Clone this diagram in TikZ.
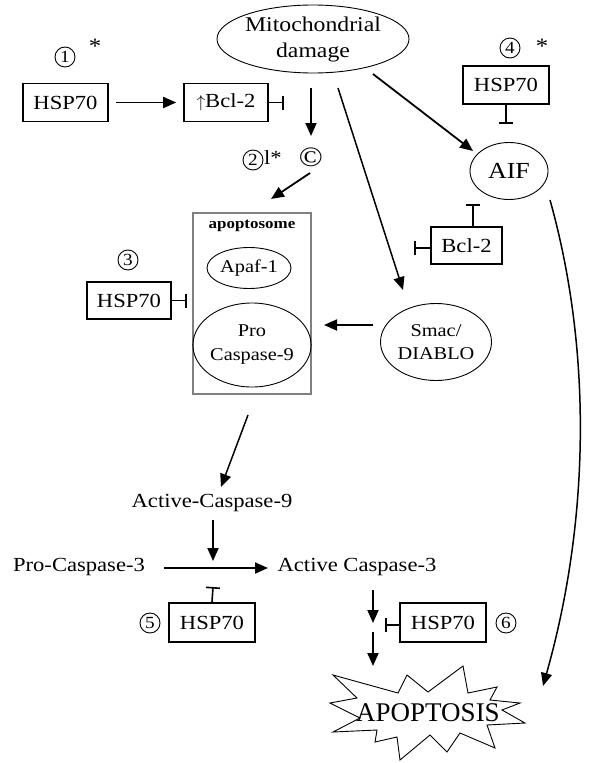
\documentclass[tikz,border=0pt]{standalone}
\usepackage{fontspec}
\setmainfont{Liberation Serif}[FakeStretch=1.13]
\usetikzlibrary{arrows.meta,shapes.geometric}
\newcommand\fsz[1]{\fontsize{#1}{#1}\selectfont}
\tikzset{
  box/.style={draw, line width=1.6pt, minimum width=85pt, minimum height=38pt, inner sep=0pt, font=\fsz{20}},
  oval/.style={ellipse, draw, line width=0.9pt, inner sep=0pt, align=center},
  arr/.style={-{Triangle[length=13pt,width=11pt]}, line width=1.8pt},
  inh/.style={-{Bar[width=14pt,line width=1.6pt]}, line width=1.6pt},
  num/.style={circle, draw, line width=0.9pt, minimum size=20pt, inner sep=0pt, font=\fsz{17}},
  txt/.style={inner sep=0pt, font=\fsz{20}},
}
\begin{document}
\begin{tikzpicture}[x=1pt,y=-1pt]
\useasboundingbox (0,0) rectangle (590,763);
\fill[white] (0,0) rectangle (590,763);

% top
\node[oval, minimum width=190pt, minimum height=68pt, font=\fontsize{21}{26}\selectfont] (mito) at (313,39) {Mitochondrial\\damage};
\node[num] (n1) at (65,57) {1};
\node[txt, font=\fsz{22}] (s1) at (95,46) {*};
\node[box] (h1) at (65.5,102.5) {HSP70};
\node[box, minimum width=84pt] (b1) at (226,102.5) {{\fsz{17}$\uparrow$}Bcl-2};
\coordinate (b1i) at (284,102.5);
\draw[arr, shorten <=7pt, shorten >=7pt] (h1) -- (b1);
\draw[inh] (b1.east) -- (b1i);

\coordinate (md1) at (311,88);
\coordinate (md2) at (311,136);
\draw[arr] (md1) -- (md2);
\node[num] (n2) at (253,160) {2};
\node[txt, anchor=west] (l2) at (264,158) {l*};
\node[txt, font=\fsz{28}] (cpy) at (311,157) {©};
\coordinate (c1) at (310,173);
\coordinate (c2) at (271,199);
\draw[arr] (c1) -- (c2);

% apoptosome
\node[draw=gray, line width=1.6pt, minimum width=118pt, minimum height=181pt, inner sep=0pt] (apo) at (252,303.5) {};
\node[inner sep=0pt, font=\bfseries\fsz{15}] (apol) at (252,226) {apoptosome};
\node[oval, minimum width=84pt, minimum height=41pt, font=\fsz{18}] (apaf) at (249,268) {Apaf-1};
\node[oval, minimum width=106pt, minimum height=84pt, font=\fontsize{18}{24}\selectfont] (pc9) at (252,345) {Pro\\Caspase-9};
\node[num] (n3) at (128,260) {3};
\node[box, minimum width=84pt, minimum height=37pt] (h3) at (129,300.5) {HSP70};
\coordinate (h3i) at (187,300.5);
\draw[inh] (h3.east) -- (h3i);

% smac
\node[oval, minimum width=111pt, minimum height=77pt, font=\fontsize{18}{23}\selectfont] (smac) at (436,342) {Smac/\\DIABLO};
\coordinate (sm1) at (373,325);
\coordinate (sm2) at (324,325);
\draw[arr] (sm1) -- (sm2);
\coordinate (ms1) at (338,88);
\coordinate (ms2) at (403,290);
\draw[arr, line width=1.5pt] (ms1) -- (ms2);

% AIF
\coordinate (ma1) at (373,74);
\coordinate (ma2) at (473,151);
\draw[arr] (ma1) -- (ma2);
\node[num] (n4) at (510,48) {4};
\node[txt, font=\fsz{22}] (s4) at (542,46) {*};
\node[box, minimum width=86pt] (h4) at (506,85) {HSP70};
\coordinate (h4i) at (506,124);
\draw[inh] (h4.south) -- (h4i);
\node[oval, minimum width=78pt, minimum height=57pt, font=\fsz{23}] (aif) at (509,171) {AIF};
\node[box, minimum width=71pt, minimum height=37pt] (b2) at (466.5,245.5) {Bcl-2};
\coordinate (b2t) at (473,227);
\coordinate (b2ti) at (473,204);
\coordinate (b2l) at (431,248);
\coordinate (b2li) at (414,248);
\draw[inh] (b2t) -- (b2ti);
\draw[inh] (b2l) -- (b2li);

% lower
\coordinate (ap1) at (248,415);
\coordinate (ap2) at (221,487);
\draw[arr, line width=1.5pt] (ap1) -- (ap2);
\node[txt] (ac9) at (212,503) {Active-Caspase-9};
\coordinate (d1) at (213,520);
\coordinate (d2) at (213,561);
\draw[arr] (d1) -- (d2);
\node[txt] (pc3) at (79,567) {Pro-Caspase-3};
\node[txt] (ac3) at (357,567) {Active Caspase-3};
\coordinate (p1) at (164,568);
\coordinate (p2) at (268,568);
\draw[arr] (p1) -- (p2);
\node[box, minimum width=86pt, minimum height=39pt] (h5) at (212,622.5) {HSP70};
\coordinate (h5i) at (213,587);
\draw[inh] (h5.north) -- (h5i);
\node[num] (n5) at (150,623) {5};

\coordinate (e1) at (373,590);
\coordinate (e2) at (373,623);
\coordinate (e3) at (373,632);
\coordinate (e4) at (373,666);
\draw[arr] (e1) -- (e2);
\draw[arr] (e3) -- (e4);
\node[box, minimum width=86pt, minimum height=39pt] (h6) at (443,622.5) {HSP70};
\coordinate (h6i) at (385,625);
\draw[inh] (h6.west |- h6i) -- (h6i);
\node[num] (n6) at (506,623) {6};

% starburst
\draw[line width=0.9pt, fill=white] (333,675) -- (398,693) -- (407,675) -- (428,692) -- (463,666) -- (468,693) -- (497,687) -- (490,700) -- (520,703) -- (502,710) -- (525,723) -- (487,725) -- (495,748) -- (460,733) -- (447,752) -- (430,735) -- (400,760) -- (397,737) -- (375,742) -- (377,730) -- (333,732) -- (360,718) -- (330,703) -- (357,698) -- cycle;
\node[inner sep=0pt, font=\fsz{27}] (apop) at (428,713) {\addfontfeatures{FakeStretch=1.0}APOPTOSIS};

\coordinate (aifs) at (550,200);
\coordinate (apt) at (543,686);
\draw[arr, line width=1.5pt] (aifs) .. controls (592,350) and (590,520) .. (apt);
\end{tikzpicture}
\end{document}
